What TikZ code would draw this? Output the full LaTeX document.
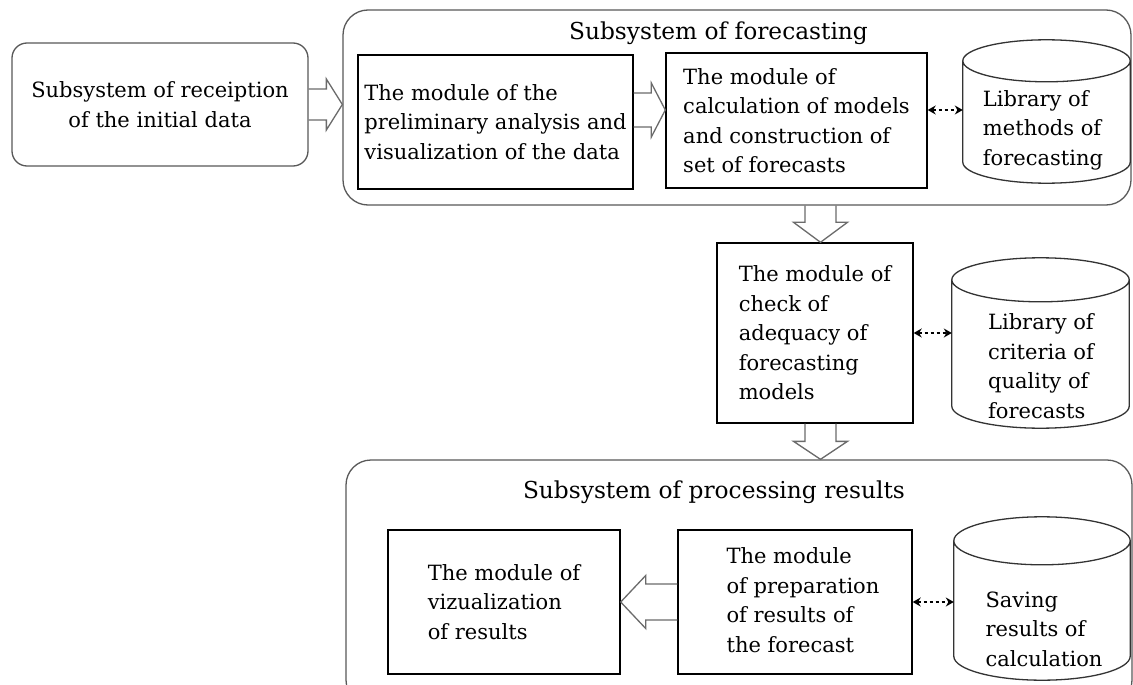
\documentclass[tikz,border=0pt]{standalone}
\usepackage{fontspec}
\setmainfont{DejaVu Serif}
\usetikzlibrary{calc,arrows.meta}

\definecolor{framegray}{gray}{0.35}
\definecolor{arrowgray}{gray}{0.42}
\definecolor{drumgray}{gray}{0.2}

% outline of a vertical drum (database symbol) drawn over the bounding node #1,
% #2 = vertical radius of the end ellipses in pt
\newcommand\drumoutline[2]{%
  \draw[drum] let \p1=(#1.north west), \p2=(#1.south east), \n1={(\x2-\x1)/2} in
    (\x1,\y1-#2pt) -- (\x1,\y2+#2pt)
    arc[start angle=180, end angle=360, x radius=\n1, y radius=#2pt]
    -- (\x2,\y1-#2pt)
    arc[start angle=0, end angle=180, x radius=\n1, y radius=#2pt]
    (\x1,\y1-#2pt) arc[start angle=180, end angle=360, x radius=\n1, y radius=#2pt];}

\tikzset{
  txt/.style={font=\fontsize{21}{29.5}\selectfont, inner sep=0pt},
  titletxt/.style={font=\fontsize{23.3}{28}\selectfont, inner sep=0pt},
  container/.style={draw=framegray, line width=1.3pt, rounded corners=25pt, inner sep=0pt},
  roundbox/.style={txt, draw=framegray, line width=1.3pt, rounded corners=15pt, align=center},
  modbox/.style={txt, draw=black, line width=1.4pt, align=left},
  drumbox/.style={inner sep=0pt, draw=none},
  drum/.style={draw=drumgray, line width=1.3pt},
  fatarrow/.style={draw=arrowgray, line width=1.3pt, line join=miter},
  link/.style={line width=1.2pt, dash pattern=on 3pt off 3pt,
    {Stealth[length=8pt,width=9pt]}-{Stealth[length=8pt,width=9pt]}}
}

\begin{document}
\begin{tikzpicture}[x=1pt, y=-1pt]
  \fill[white] (0,0) rectangle (1133,685);
  \useasboundingbox (0,0) rectangle (1133,685);
  \clip (0,0) rectangle (1133,685);

  % subsystem frames
  \node[container, minimum width=788pt, minimum height=195pt] (fore) at (737,107.5) {};
  \node[titletxt, anchor=base] (foretitle) at (718.5,40) {Subsystem of forecasting};
  \node[container, minimum width=786pt, minimum height=245pt] (proc) at (739,582.5) {};
  \node[titletxt, anchor=base] (proctitle) at (714,498) {Subsystem of processing results};

  % input subsystem
  \node[roundbox, minimum width=296pt, minimum height=123pt] (recv) at (160,104.5)
    {Subsystem of receiption\\of the initial data};

  % forecasting modules
  \node[modbox, minimum width=275pt, minimum height=134pt] (pre) at (495.5,122)
    {The module of the\\preliminary analysis and\\visualization of the data};
  \node[modbox, minimum width=261pt, minimum height=135pt] (calc) at (796.5,120.5)
    {The module of\\calculation of models\\and construction of\\set of forecasts};
  \node[drumbox, minimum width=167pt, minimum height=143pt] (lib1) at (1046.5,111.5) {};
  \drumoutline{lib1}{21}
  \node[txt, align=left] (lib1txt) at (1043,130) {Library of\\methods of\\forecasting};

  % adequacy check
  \node[modbox, minimum width=196pt, minimum height=180pt] (check) at (815,333)
    {The module of\\check of\\adequacy of\\forecasting\\models};
  \node[drumbox, minimum width=177pt, minimum height=170pt] (lib2) at (1040.5,343) {};
  \drumoutline{lib2}{22}
  \node[txt, align=left] (lib2txt) at (1041,366) {Library of\\criteria of\\quality of\\forecasts};

  % result processing modules
  \node[modbox, minimum width=232pt, minimum height=144pt] (viz) at (504,602)
    {The module of\\vizualization\\of results};
  \node[modbox, minimum width=234pt, minimum height=144pt] (prep) at (795,602)
    {\hspace*{16pt}\begin{tabular}{@{}l@{}}The module\\of preparation\\of results of\\the forecast\end{tabular}};
  \node[drumbox, minimum width=176pt, minimum height=163pt] (lib3) at (1042,598.5) {};
  \drumoutline{lib3}{24}
  \node[txt, align=left] (lib3txt) at (1044,629) {Saving\\results of\\calculation};

  % anchor points of the block arrows and links
  \coordinate (colx) at (820.5,0);
  \coordinate (s1) at (recv.east);
  \coordinate (t1) at (recv.east -| fore.west);
  \coordinate (s2) at ($(pre.east)+(0,-12)$);
  \coordinate (t2) at (s2 -| calc.west);
  \coordinate (s3) at (colx |- fore.south);
  \coordinate (t3) at (colx |- check.north);
  \coordinate (s4) at (colx |- check.south);
  \coordinate (t4) at (colx |- proc.north);
  \coordinate (s5) at (prep.west);
  \coordinate (t5) at (prep.west -| viz.east);
  \coordinate (s6) at ($(calc.east)+(0,-10.5)$);

  % block arrows
  \draw[fatarrow] ($(s1)+(0,-15.5)$) -- ($(t1)+(-16,-15.5)$) -- ($(t1)+(-16,-25.5)$) -- (t1)
    -- ($(t1)+(-16,25.5)$) -- ($(t1)+(-16,15.5)$) -- ($(s1)+(0,15.5)$);
  \draw[fatarrow] ($(s2)+(0,-17)$) -- ($(t2)+(-14,-17)$) -- ($(t2)+(-14,-27)$) -- (t2)
    -- ($(t2)+(-14,27)$) -- ($(t2)+(-14,17)$) -- ($(s2)+(0,17)$);
  \draw[fatarrow] ($(s3)+(-15.5,0)$) -- ($(t3)+(-15.5,-20)$) -- ($(t3)+(-27,-20)$) -- (t3)
    -- ($(t3)+(27,-20)$) -- ($(t3)+(15.5,-20)$) -- ($(s3)+(15.5,0)$);
  \draw[fatarrow] ($(s4)+(-15.5,0)$) -- ($(t4)+(-15.5,-18)$) -- ($(t4)+(-27,-18)$) -- (t4)
    -- ($(t4)+(27,-18)$) -- ($(t4)+(15.5,-18)$) -- ($(s4)+(15.5,0)$);
  \draw[fatarrow] ($(s5)+(0,-18)$) -- ($(t5)+(25,-18)$) -- ($(t5)+(25,-26.5)$) -- (t5)
    -- ($(t5)+(25,26.5)$) -- ($(t5)+(25,18)$) -- ($(s5)+(0,18)$);

  % links to the libraries
  \draw[link] (s6) -- (s6 -| lib1.west);
  \draw[link] (check.east) -- (check.east -| lib2.west);
  \draw[link] (prep.east) -- (prep.east -| lib3.west);
\end{tikzpicture}
\end{document}
